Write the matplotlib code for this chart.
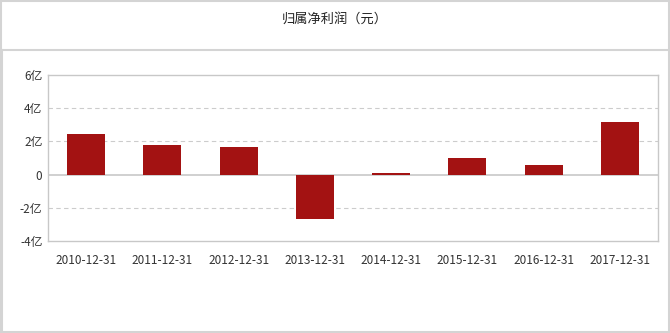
import matplotlib
matplotlib.use("Agg")
import matplotlib.pyplot as plt
from matplotlib.patches import Rectangle
from matplotlib.lines import Line2D

plt.rcParams['font.family'] = ['Noto Sans CJK SC', 'DejaVu Sans']

title = "归属净利润（元）"
dates = ["2010-12-31", "2011-12-31", "2012-12-31", "2013-12-31",
         "2014-12-31", "2015-12-31", "2016-12-31", "2017-12-31"]
profit = [2.42, 1.76, 1.64, -2.65, 0.10, 1.03, 0.55, 3.15]  # 亿元
yticks = [-4, -2, 0, 2, 4, 6]
ytick_labels = ["-4亿", "-2亿", "0", "2亿", "4亿", "6亿"]

W, H = 670, 333
fig = plt.figure(figsize=(W / 100, H / 100), dpi=100)
border = "#d4d4d4"

# outer frame and title band
fig.patches.append(Rectangle((1 / W, 1 / H), 1 - 2 / W, 1 - 2 / H, transform=fig.transFigure,
                             fill=False, edgecolor=border, linewidth=1.5))
fig.lines.append(Line2D([0, 1], [1 - 50 / H, 1 - 50 / H], transform=fig.transFigure,
                        color=border, linewidth=1.5))
fig.lines.append(Line2D([2 / W, 2 / W], [0, 1 - 50 / H], transform=fig.transFigure,
                        color=border, linewidth=1.5))
fig.text(0.5, 1 - 19 / H, title, ha="center", va="center", fontsize=9.5, color="#222222")

left, right, top, bottom = 48, 658, 75, 241
ax = fig.add_axes([left / W, 1 - bottom / H, (right - left) / W, (bottom - top) / H])
x = range(len(dates))
ax.bar(x, profit, width=0.5, color="#a31212", zorder=3)
ax.set_xlim(-0.5, len(dates) - 0.5)
ax.set_ylim(-4, 6)
ax.set_yticks(yticks)
ax.set_yticklabels(ytick_labels)
ax.set_xticks(list(x))
ax.set_xticklabels(dates)
for v in [-2, 2, 4]:
    ax.axhline(v, color="#cccccc", linestyle=(0, (4, 3)), linewidth=0.8, zorder=1)
ax.axhline(0, color="#c8c8c8", linewidth=1.2, zorder=2)
for s in ax.spines.values():
    s.set_color("#c8c8c8")
    s.set_linewidth(1)
ax.tick_params(length=0, labelsize=8.5, colors="#333333", pad=4)
ax.tick_params(axis="x", pad=9)

fig.savefig("out.png", dpi=100)
